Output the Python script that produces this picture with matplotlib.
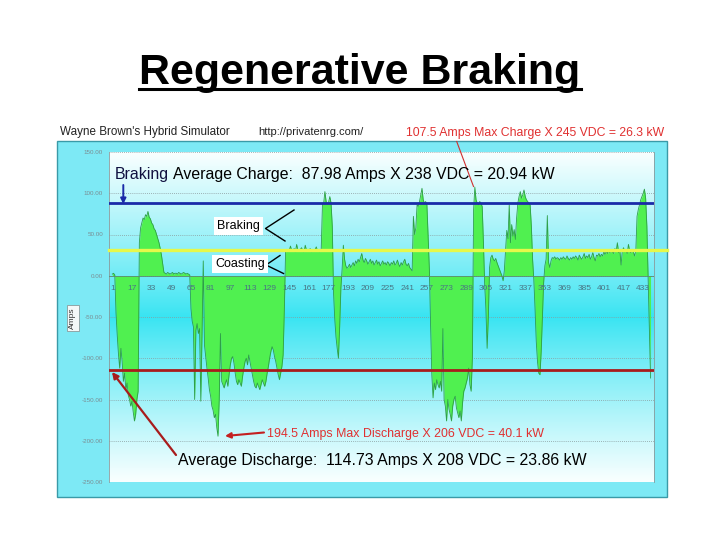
import numpy as np
import matplotlib
matplotlib.use("Agg")
import matplotlib.pyplot as plt
from matplotlib.patches import Rectangle, FancyArrowPatch
from matplotlib.lines import Line2D

plt.rcParams['font.family'] = ['Liberation Sans', 'DejaVu Sans']

# ---------------- data (amps per sample) ----------------
seg_start = [2, 3, 1]
seg_discharge1 = [-45, -72, -95, -112, -88, -104, -128, -118, -138, -130, -145, -150,
                  -158, -152, -165, -176, -168, -150, -140]
seg_brake1 = [40, 58, 64, 70, 68, 74, 72, 78, 71, 69, 64, 62, 57, 55, 50, 45, 40, 33, 25, 14, 4]
seg_idle1 = [3, 2, 4, 3, 2, 3, 4, 2, 3, 3, 2, 4, 3, 2, 3, 4, 3, 2, 3, 2, 1]
seg_discharge2 = [-40, -55, -62, -150, -66, -58, -70, -64, -152, -72, 18, -84, -98, -112,
                  -124, -138, -146, -158, -163, -172, -168, -184, -194.5, -150, -70,
                  -128, -132, -136, -130, -126, -134, -120, -108, -100, -98, -106, -118,
                  -128, -132, -126, -130, -134, -122, -112, -104, -100, -108, -96, -104,
                  -112, -120, -128, -134, -136, -130, -134, -138, -132, -126, -130, -134,
                  -128, -118, -110, -100, -92, -86, -90, -98, -104, -112, -120, -126,
                  -118, -110, -96, -40]
seg_coast1 = [30, 32, 29, 31, 36, 30, 31, 33, 29, 38, 31, 30, 32, 34, 30, 29, 37, 31, 32,
              30, 33, 29, 31, 30, 32, 35, 30, 31, 29, 32]
seg_brake2 = [86, 88, 102, 90, 87, 89, 96, 88, 60]
seg_dip1 = [-20, -52, -74, -88, -100, -62, -15, 8]
seg_coast2 = [37, 20, 12, 9, 11, 14, 10, 13, 16, 12, 18, 15, 20, 17, 22, 27, 19, 16, 21, 18,
              14, 17, 20, 15, 18, 13, 16, 19, 14, 17, 12, 15, 18, 14, 16, 13, 17, 15, 12, 16,
              14, 18, 13, 15, 19, 14, 11, 16, 13, 17, 20, 14, 12, 15, 10, 8, 6]
seg_brake3 = [72, 50, 58, 86, 84, 90, 98, 106, 92, 88, 90, 86, 48]
seg_discharge3 = [8, -60, -120, -148, -130, -138, -126, -132, -136, -128, -140, -64, -150,
                  -158, -176, -150, -162, -168, -176, -158, -150, -146, -160, -166, -172,
                  -164, -176, -154, -140, -136, -130, -124, -112, -132, -140, -100]
seg_brake4 = [80, 107.5, 92, 88, 86, 90, 88, 84, 40]
seg_dip2 = [-10, -40, -88, -50, 10]
seg_coast3 = [22, 25, 20, 18, 21, 16, 12, 8, 4, 0, -6, 6]
seg_rise = [30, 55, 45, 86, 40, 62, 48, 56, 44, 70]
seg_brake5 = [88, 96, 102, 94, 98, 104, 96, 92, 90, 88, 86, 60]
seg_dip3 = [20, -5, -40, -80, -104, -118, -120, -92, -50, -8]
seg_spike = [12, 20, 73, 16]
seg_coast4 = [10, 18, 22, 21, 23, 20, 22, 21, 19, 22, 20, 23, 21, 20, 24, 21, 19, 22, 20,
              23, 21, 24, 22, 19, 25, 22, 20, 23, 27, 21, 24, 22, 26, 20, 23, 28, 22, 18,
              25, 24, 27, 23, 26, 24, 29, 26, 30, 27, 31, 28, 32, 29, 27, 33, 30, 40, 28,
              31, 13, 30, 34, 29, 32, 27, 38, 30, 28, 32, 29, 24, 30]
seg_brake6 = [72, 80, 86, 92, 96, 100, 105, 94, 60]
seg_end = [0, -60, -124]

amps = np.array(seg_start + seg_discharge1 + seg_brake1 + seg_idle1 + seg_discharge2 +
                seg_coast1 + seg_brake2 + seg_dip1 + seg_coast2 + seg_brake3 +
                seg_discharge3 + seg_brake4 + seg_dip2 + seg_coast3 + seg_rise +
                seg_brake5 + seg_dip3 + seg_spike + seg_coast4 + seg_brake6 + seg_end,
                dtype=float)
samples = np.arange(1, len(amps) + 1)

x_tick_labels = [1, 17, 33, 49, 65, 81, 97, 113, 129, 145, 161, 177, 193, 209, 225, 241,
                 257, 273, 289, 305, 321, 337, 353, 369, 385, 401, 417, 433]
y_ticks = [150, 100, 50, 0, -50, -100, -150, -200, -250]

avg_charge = 87.98
coast_level = 31
avg_discharge = -114.73

# ---------------- figure ----------------
W, H = 720, 540
fig = plt.figure(figsize=(7.2, 5.4), dpi=100)
fig.patch.set_facecolor('white')


def fx(x):
    return x / W


def fy(y):
    return 1 - y / H


# outer cyan panel
fig.patches.append(Rectangle((fx(57), fy(497)), (667 - 57) / W, (497 - 141) / H,
                             transform=fig.transFigure, facecolor='#7de9f5',
                             edgecolor='#3a9aa8', linewidth=1.0, zorder=-5))

ax = fig.add_axes([fx(108.5), fy(482), 545 / W, 330 / H])
ax.set_zorder(2)
xmin, xmax = -2.1, 441.4
ymin, ymax = -250, 150
ax.set_xlim(xmin, xmax)
ax.set_ylim(ymin, ymax)

# gradient background: cyan in the middle, white toward top/bottom
vals = np.linspace(ymax, ymin, 400)
t = np.clip(np.abs(vals + 50) / 200.0, 0, 1)
cyan = np.array([0x38, 0xe4, 0xf2]) / 255.0
white = np.array([0xfa, 0xff, 0xff]) / 255.0
tt = t ** 0.9
grad = (cyan[None, :] * (1 - tt[:, None]) + white[None, :] * tt[:, None])
ax.imshow(grad[:, None, :], extent=[xmin, xmax, ymin, ymax], aspect='auto', zorder=0,
          interpolation='bilinear')

for yv in y_ticks:
    ax.axhline(yv, color='#8a9a9c', lw=0.6, ls=(0, (1, 1.5)), zorder=1)

ax.fill_between(samples, 0, amps, color='#50f050', linewidth=0, zorder=2)
ax.plot(samples, amps, color='#2e9e48', lw=0.6, zorder=3)

ax.axhline(0, color='#5a8a70', lw=0.6, zorder=3)
ax.axhline(avg_charge, color='#1a2aa8', lw=2.0, zorder=5)
ax.axhline(coast_level, xmin=0, xmax=(667 - 108.5) / 545, color='#e6f84a', lw=2.4,
           zorder=5, clip_on=False)
ax.axhline(avg_discharge, color='#a81c1c', lw=2.0, zorder=5)

for lab in x_tick_labels:
    ax.text(lab, -16, str(lab), ha='center', va='center', fontsize=6, color='#4a7484',
            zorder=6)

ax.set_xticks([])
ax.set_yticks(y_ticks)
ax.set_yticklabels(['%.2f' % v for v in y_ticks], fontsize=4.5, color='#7a8c92')
ax.tick_params(axis='y', length=0, pad=4)
for s in ['top', 'bottom']:
    ax.spines[s].set_visible(False)
for s in ['left', 'right']:
    ax.spines[s].set_color('#8a9a9c')
    ax.spines[s].set_linewidth(0.6)

# ---------------- texts ----------------
title = fig.text(0.5, fy(84), 'Regenerative Braking', ha='center', va='baseline',
                 fontsize=31, fontweight='bold', color='black')
fig.canvas.draw()
bb = title.get_window_extent()
fig.add_artist(Line2D([bb.x0 / W, bb.x1 / W], [fy(88.5), fy(88.5)], color='black',
                      lw=2.2, transform=fig.transFigure))

fig.text(fx(60), fy(132), "Wayne Brown's Hybrid Simulator", ha='left', va='center',
         fontsize=8.4, color='#222222')
fig.text(fx(258), fy(132), "http://privatenrg.com/", ha='left', va='center',
         fontsize=8, color='#222222')
fig.text(fx(406), fy(133), "107.5 Amps Max Charge X 245 VDC = 26.3 kW", ha='left',
         va='center', fontsize=8.85, color='#e03030')

fig.text(fx(115), fy(174), "Braking", ha='left', va='center', fontsize=11.4,
         color='#101040', zorder=20)
fig.text(fx(173), fy(175), "Average Charge:  87.98 Amps X 238 VDC = 20.94 kW",
         ha='left', va='center', fontsize=11.4, color='black', zorder=20)

fig.text(fx(238.5), fy(226), "Braking", ha='center', va='center', fontsize=9,
         color='black', zorder=20,
         bbox=dict(boxstyle='square,pad=0.25', fc='white', ec='none'))
fig.text(fx(240), fy(264), "Coasting", ha='center', va='center', fontsize=9,
         color='black', zorder=20,
         bbox=dict(boxstyle='square,pad=0.25', fc='white', ec='none'))

fig.text(fx(267), fy(434), "194.5 Amps Max Discharge X 206 VDC = 40.1 kW", ha='left',
         va='center', fontsize=8.9, color='#e03030', zorder=20)
fig.text(fx(178), fy(461), "Average Discharge:  114.73 Amps X 208 VDC = 23.86 kW",
         ha='left', va='center', fontsize=11.4, color='black', zorder=20)

fig.text(fx(72.5), fy(318), "Amps", ha='center', va='center', fontsize=6,
         color='#333333', rotation=90, zorder=20,
         bbox=dict(boxstyle='square,pad=0.3', fc='#f4f8f8', ec='#8a9a9c', lw=0.6))


def fline(pts, color, lw):
    xs = [fx(p[0]) for p in pts]
    ys = [fy(p[1]) for p in pts]
    fig.add_artist(Line2D(xs, ys, color=color, lw=lw, transform=fig.transFigure,
                          zorder=20))


def farrow(p0, p1, color, lw, ms):
    fig.add_artist(FancyArrowPatch((fx(p0[0]), fy(p0[1])), (fx(p1[0]), fy(p1[1])),
                                   transform=fig.transFigure, arrowstyle='-|>',
                                   mutation_scale=ms, color=color, lw=lw, zorder=20,
                                   shrinkA=0, shrinkB=0))


# chevrons
fline([(294, 210), (265.5, 228.5), (285, 241)], 'black', 1.0)
fline([(280, 255.5), (266, 265), (283.5, 273.5)], 'black', 1.0)
# pointer from max charge label
fline([(456.7, 141.5), (473.5, 186.5)], '#d03030', 0.8)
# arrows
farrow((123.3, 185), (123.3, 204), '#1a2aa8', 1.4, 8)
farrow((176, 455), (112, 372), '#a81c1c', 1.6, 9)
farrow((264, 432.5), (225, 436), '#c42020', 1.5, 8)

fig.savefig('out.png', dpi=100, facecolor='white')
